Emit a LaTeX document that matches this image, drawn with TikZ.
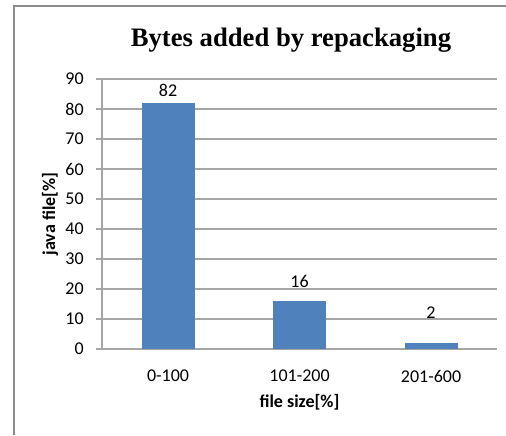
\documentclass[tikz,border=0pt]{standalone}
\usepackage{fontspec}
\setmainfont{Carlito}
\newfontfamily\titlefont{Liberation Serif}
\usetikzlibrary{positioning}
\definecolor{barblue}{HTML}{4F81BD}
\definecolor{gridgray}{HTML}{A6A6A6}
\definecolor{framegray}{HTML}{8C8C8C}

\begin{document}
\begin{tikzpicture}[x=0.75pt, y=0.75pt,
    grid/.style={draw=gridgray, line width=0.8pt},
    bar/.style={fill=barblue, draw=none},
    ticklabel/.style={font=\fontsize{13.5}{15}\selectfont, inner sep=0pt},
    axistitle/.style={font=\bfseries\fontsize{13.5}{15}\selectfont, inner sep=0pt}]
  \useasboundingbox (0,0) rectangle (506,435);
  % chart frame, cut off at right and bottom
  \draw[framegray, line width=0.8pt] (14,0) -- (14,429) -- (506,429);
  \node[font=\titlefont\bfseries\fontsize{20}{22}\selectfont] (title) at (291,395) {Bytes added by repackaging};
  % value axis with gridlines
  \foreach \v in {0,10,...,90} {
    \draw[grid] (96,86+3*\v) -- (497,86+3*\v);
    \node[ticklabel, anchor=east] (y\v) at (84,86+3*\v) {\v};
  }
  \draw[grid] (102,86) -- (102,356);
  % bars, values and categories
  \foreach \c/\h/\ly/\cat [count=\i] in {168/82/345/0-100, 299.5/16/154/101-200, 431/2/122/201-600} {
    \fill[barblue] (\c-26.5,86) rectangle (\c+26.5,86+3*\h);
    \node[ticklabel] (val\i) at (\c,\ly) {\h};
    \node[ticklabel] (cat\i) at (\c,59) {\cat};
  }
  \node[axistitle, rotate=90] (ytitle) at (50,221) {java file[\%]};
  \node[axistitle] (xtitle) at (299.5,33) {file size[\%]};
\end{tikzpicture}
\end{document}
